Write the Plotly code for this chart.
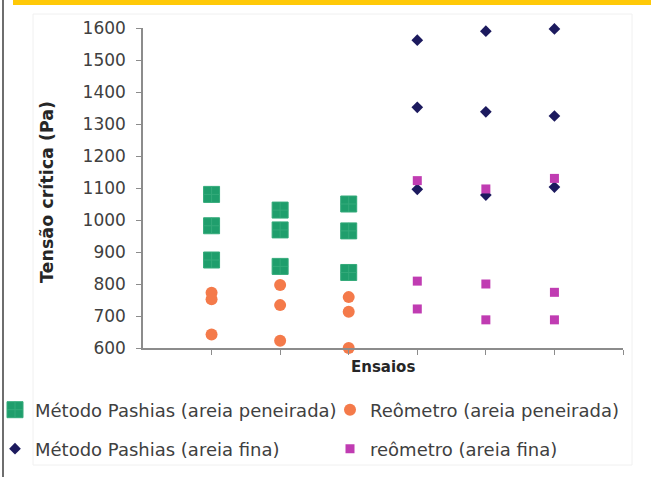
import plotly.graph_objects as go

# Test positions (ensaios) on the horizontal axis
ensaios_peneirada = [1, 1, 1, 2, 2, 2, 3, 3, 3]
ensaios_fina = [4, 4, 4, 5, 5, 5, 6, 6, 6]

# Critical shear stress (Pa)
pashias_peneirada = [1080, 982, 875, 1031, 969, 855, 1050, 966, 836]
reometro_peneirada = [773, 752, 642, 797, 734, 623, 759, 713, 600]
pashias_fina = [1562, 1352, 1096, 1590, 1338, 1078, 1597, 1325, 1103]
reometro_fina = [1123, 809, 722, 1097, 800, 688, 1130, 774, 688]

y_ticks = list(range(600, 1601, 100))

W, H = 656, 477
L, R, T, B = 143, 623, 28, 348  # plot area in pixels


def px_x(p):
    return (p - L) / (R - L)


def px_y(p):
    return (B - p) / (B - T)


fig = go.Figure()

fig.add_trace(go.Scatter(
    x=ensaios_peneirada, y=pashias_peneirada, mode="markers",
    name="Método Pashias (areia peneirada)",
    marker=dict(symbol="square-cross", size=16, color="#1f9e6c",
                line=dict(color="#34aa7a", width=1)),
    legend="legend", cliponaxis=False,
))
fig.add_trace(go.Scatter(
    x=ensaios_peneirada, y=reometro_peneirada, mode="markers",
    name="Reômetro (areia peneirada)",
    marker=dict(symbol="circle", size=12, color="#f47a4a"),
    legend="legend2", cliponaxis=False,
))
fig.add_trace(go.Scatter(
    x=ensaios_fina, y=pashias_fina, mode="markers",
    name="Método Pashias (areia fina)",
    marker=dict(symbol="diamond", size=9, color="#1c1a5e"),
    legend="legend3", cliponaxis=False,
))
fig.add_trace(go.Scatter(
    x=ensaios_fina, y=reometro_fina, mode="markers",
    name="reômetro (areia fina)",
    marker=dict(symbol="square", size=9, color="#c03cb2"),
    legend="legend4", cliponaxis=False,
))

font_txt = "DejaVu Sans"
font_bold = "DejaVu Sans"


def legend_at(px, py):
    # one legend entry placed at a pixel position of the page
    return dict(
        orientation="h", xref="paper", yref="paper",
        xanchor="left", yanchor="middle", x=px_x(px), y=px_y(py),
        font=dict(family=font_txt, size=18, color="#404040"),
        bgcolor="rgba(0,0,0,0)", borderwidth=0, itemwidth=30,
    )


fig.update_layout(
    width=W, height=H,
    margin=dict(l=L, r=W - R, t=T, b=H - B, pad=0, autoexpand=False),
    paper_bgcolor="white", plot_bgcolor="white",
    showlegend=True,
    legend=legend_at(-5, 410),
    legend2=legend_at(330, 410),
    legend3=legend_at(-5, 449),
    legend4=legend_at(330, 449),
    xaxis=dict(
        range=[0, 7], tickvals=[1, 2, 3, 4, 5, 6, 7], showticklabels=False,
        ticks="outside", ticklen=5, tickcolor="#8c8c8c", tickwidth=1,
        showline=True, linecolor="#8c8c8c", linewidth=1.5,
        showgrid=False, zeroline=False, fixedrange=True,
    ),
    yaxis=dict(
        range=[600, 1600], tickvals=y_ticks,
        ticks="outside", ticklen=5, tickcolor="#8c8c8c", tickwidth=1,
        showline=True, linecolor="#8c8c8c", linewidth=1.5,
        showgrid=False, zeroline=False, ticklabelstandoff=7,
        tickfont=dict(family="DejaVu Sans", size=17, color="#404040"),
        fixedrange=True,
    ),
    shapes=[
        # yellow top band
        dict(type="rect", xref="paper", yref="paper",
             x0=px_x(13), x1=px_x(651), y0=px_y(5), y1=px_y(-1),
             fillcolor="#ffc907", line=dict(width=0), layer="below"),
        # left border rule
        dict(type="line", xref="paper", yref="paper",
             x0=px_x(3), x1=px_x(3), y0=px_y(-1), y1=px_y(H + 1),
             line=dict(color="#6e6e6e", width=2)),
        # faint chart frame
        dict(type="rect", xref="paper", yref="paper",
             x0=px_x(33), x1=px_x(632), y0=px_y(465), y1=px_y(14),
             line=dict(color="#f0f0f0", width=1), layer="below"),
    ],
    annotations=[
        dict(text="<b>Tensão crítica (Pa)</b>", textangle=-90,
             xref="paper", yref="paper", x=px_x(47), y=px_y(192),
             xanchor="center", yanchor="middle", showarrow=False,
             font=dict(family=font_bold, size=17.5, color="#262626")),
        dict(text="<b>Ensaios</b>",
             xref="paper", yref="paper", x=px_x(383), y=px_y(367),
             xanchor="center", yanchor="middle", showarrow=False,
             font=dict(family=font_bold, size=15, color="#262626")),
    ],
)

fig.write_html("out.html")
